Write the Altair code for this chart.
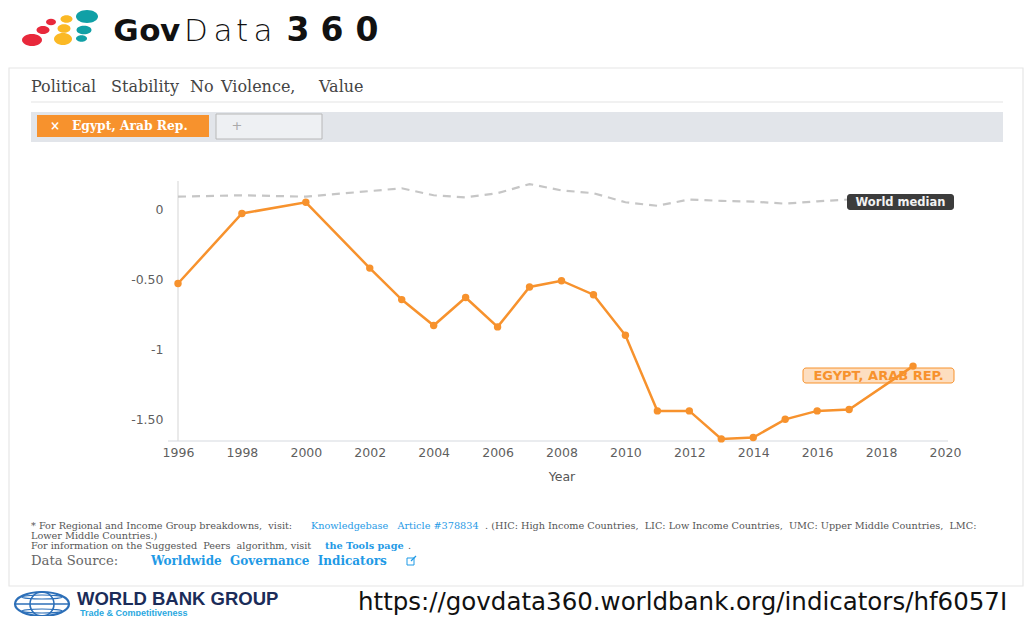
import altair as alt
import pandas as pd

# ---------------- data ----------------
eg_years = [1996, 1998, 2000, 2002, 2003, 2004, 2005, 2006, 2007, 2008,
            2009, 2010, 2011, 2012, 2013, 2014, 2015, 2016, 2017, 2019]
eg_values = [-0.53, -0.03, 0.05, -0.42, -0.645, -0.83, -0.63, -0.84, -0.555, -0.51,
             -0.61, -0.90, -1.44, -1.44, -1.64, -1.63, -1.50, -1.44, -1.43, -1.12]
wm_years = [1996, 1998, 2000, 2002, 2003, 2004, 2005, 2006, 2007, 2008,
            2009, 2010, 2011, 2012, 2013, 2014, 2015, 2016, 2017]
wm_values = [0.09, 0.10, 0.09, 0.13, 0.15, 0.10, 0.085, 0.115, 0.18, 0.135,
             0.115, 0.05, 0.025, 0.07, 0.06, 0.055, 0.04, 0.057, 0.07]
x_ticks = list(range(1996, 2021, 2))
y_ticks = [0, -0.5, -1, -1.5]
y_tick_labels = ["0", "-0.50", "-1", "-1.50"]

egypt = pd.DataFrame({"year": eg_years, "value": eg_values})
median = pd.DataFrame({"year": wm_years, "value": wm_values})

# ---------------- layout helpers ----------------
ORANGE = "#f7922d"
BLUE = "#1f9ae6"
NB = "\u00a0"
OX, OY = 178, 181          # page position of the plot origin
W, H = 767, 260
ONE = alt.Data(values=[{"k": 1}])


def px(X):
    return X - OX


def py(Y):
    return Y - OY


def text(s, X, Y, size, color, font="DejaVu Sans", weight="normal",
         align="left", baseline="middle"):
    return alt.Chart(ONE).mark_text(
        text=s, fontSize=size, color=color, font=font, fontWeight=weight,
        align=align, baseline=baseline
    ).encode(x=alt.value(px(X)), y=alt.value(py(Y)))


def box(X1, Y1, X2, Y2, fill, stroke=None, sw=1, radius=0, opacity=1):
    kw = dict(fill=fill, cornerRadius=radius, fillOpacity=opacity)
    if stroke:
        kw.update(stroke=stroke, strokeWidth=sw)
    return alt.Chart(ONE).mark_rect(**kw).encode(
        x=alt.value(px(X1)), x2=alt.value(px(X2)),
        y=alt.value(py(Y1)), y2=alt.value(py(Y2)))


def rule(X1, Y1, X2, Y2, color, sw=1):
    return alt.Chart(ONE).mark_rule(color=color, strokeWidth=sw).encode(
        x=alt.value(px(X1)), x2=alt.value(px(X2)),
        y=alt.value(py(Y1)), y2=alt.value(py(Y2)))


def ellipse(X, Y, w, h, color, filled=True, sw=1.6):
    r = h / w
    path = f"M -1 0 A 1 {r:.3f} 0 1 0 1 0 A 1 {r:.3f} 0 1 0 -1 0 Z"
    if filled:
        m = alt.Chart(ONE).mark_point(shape=path, size=w * w, filled=True,
                                      color=color, opacity=1, strokeWidth=0)
    else:
        m = alt.Chart(ONE).mark_point(shape=path, size=w * w, filled=False,
                                      stroke=color, strokeWidth=sw, opacity=1)
    return m.encode(x=alt.value(px(X)), y=alt.value(py(Y)))


layers = []

# ---------------- card (border only) ----------------
layers.append(box(9, 68, 1023, 586, "white", stroke="#e6e6e6", sw=1.2, opacity=0))

# ---------------- header logo ----------------
RED, YEL, TEAL = "#e8283b", "#fbb925", "#10a0a6"
for (X, Y, w, h, c) in [(32, 40, 20, 12, RED), (43, 30, 13, 8, RED), (51, 22, 10, 6.5, RED),
                        (63, 39, 18, 12, YEL), (64, 28.5, 13, 8.5, YEL), (66.5, 19, 12, 7.5, YEL),
                        (87, 16.5, 22, 13, TEAL), (84, 30, 15, 8.5, TEAL), (81.5, 38.5, 11, 6.5, TEAL)]:
    layers.append(ellipse(X, Y, w, h, c))

for ch, X, wt, fs in [("G", 126, 700, 31), ("o", 150, 700, 31), ("v", 170, 700, 31),
                      ("D", 196, 200, 31), ("a", 223, 200, 31), ("t", 242, 200, 31),
                      ("a", 263, 200, 31),
                      ("3", 298, 700, 33), ("6", 332, 700, 33), ("0", 367, 700, 33)]:
    layers.append(text(ch, X, 41, fs, "#111", font="DejaVu Sans", weight=wt,
                       align="center", baseline="alphabetic"))

# ---------------- card content ----------------
for word, X in [("Political", 31), ("Stability", 111), ("No", 190),
                ("Violence,", 221), ("Value", 319)]:
    layers.append(text(word, X, 87, 16, "#444", font="DejaVu Serif"))
layers.append(rule(31, 102, 1003, 102, "#e4e4e4", 1.2))
layers.append(box(31, 112, 1003, 142, "#e2e5ea"))
layers.append(box(37, 115, 209, 137, ORANGE))
layers.append(text("×", 55, 126, 12, "white", font="DejaVu Serif", weight="bold", align="center"))
layers.append(text("Egypt," + NB + "Arab Rep.", 72, 126, 12.3, "white", font="DejaVu Serif", weight="bold"))
layers.append(box(216, 114, 322, 139, "#eef0f3", stroke="#b8b8b8", sw=1))
layers.append(text("+", 237, 126, 13, "#aaa", align="center"))

# ---------------- chart ----------------
label_expr = " : ".join(
    f"datum.value == {v} ? '{s}'" for v, s in zip(y_ticks, y_tick_labels)) + " : ''"

xs = alt.Scale(domain=[1996, 2020], nice=False, zero=False)
ys = alt.Scale(domain=[-1.655, 0.202], nice=False, zero=False)
xenc = alt.X("year:Q", scale=xs, axis=alt.Axis(
    values=x_ticks, format="d", ticks=False, domain=False, grid=False,
    labelFont="DejaVu Sans", labelFontSize=12.5, labelColor="#5f5f5f",
    labelPadding=5, labelFlush=False, labelOverlap=False, zindex=1,
    title="Year", titleFont="DejaVu Sans", titleFontSize=12.5,
    titleFontWeight="normal", titleColor="#555", titlePadding=12))
yenc = alt.Y("value:Q", scale=ys, axis=alt.Axis(
    values=y_ticks, labelExpr=label_expr, ticks=False, domain=False, grid=False,
    labelFont="DejaVu Sans", labelFontSize=12.5, labelColor="#5f5f5f",
    labelPadding=15, zindex=1, title=None))

layers.append(rule(168, 441, 948, 441, "#d6d9e0", 1.2))
layers.append(rule(178, 181, 178, 441, "#dcdcdc", 1.2))

layers.append(alt.Chart(median).mark_line(color="#c6c6c6", strokeWidth=2.2,
                                          strokeDash=[8, 6]).encode(x=xenc, y=yenc))
layers.append(alt.Chart(egypt).mark_line(color=ORANGE, strokeWidth=2.5).encode(x=xenc, y=yenc))
layers.append(alt.Chart(egypt).mark_point(filled=True, size=55, color=ORANGE,
                                          opacity=1).encode(x=xenc, y=yenc))

layers.append(box(847, 194, 954, 210, "#2b2b2b", radius=3, opacity=0.92))
layers.append(text("World median", 900.5, 202.5, 11.5, "#f2f2f2", weight="bold", align="center"))
layers.append(box(803, 368, 954, 383, ORANGE, stroke=ORANGE, sw=1, radius=3, opacity=0.3))
layers.append(text("EGYPT, ARAB REP.", 878.5, 376, 13, ORANGE, weight="bold", align="center"))

# ---------------- footnotes ----------------
GR = "#555"
FS = 9.7
SERIF = "DejaVu Serif"
layers.append(text("* For Regional and Income Group breakdowns," + NB + " visit:", 31, 526, FS, GR, font=SERIF))
layers.append(text("Knowledgebase" + NB + NB + " Article #378834", 311, 526, FS, BLUE, font=SERIF))
layers.append(text(". (HIC: High Income Countries," + NB + " LIC: Low Income Countries," + NB +
                   " UMC: Upper Middle Countries," + NB + " LMC:", 485, 526, FS, GR, font=SERIF))
layers.append(text("Lower Middle Countries.)", 31, 535.5, FS, GR, font=SERIF))
layers.append(text("For information on the Suggested" + NB + " Peers" + NB + " algorithm, visit",
                   31, 545.5, FS, GR, font=SERIF))
layers.append(text("the Tools page", 325, 545.5, FS, BLUE, font=SERIF, weight="bold"))
layers.append(text(".", 408, 545.5, FS, GR, font=SERIF))
layers.append(text("Data Source:", 31, 561, 13.2, "#666", font=SERIF))
layers.append(text("Worldwide" + NB + " Governance" + NB + " Indicators", 151, 561, 12, BLUE,
                   font=SERIF, weight="bold"))
layers.append(box(407, 558, 414, 565, "white", stroke=BLUE, sw=1))
layers.append(rule(411, 561, 416, 556, BLUE, 1.2))

# ---------------- footer ----------------
GLOBE = "#2c6fb8"
layers.append(ellipse(42, 604, 54, 24, GLOBE, filled=False, sw=2.2))
layers.append(ellipse(42, 604, 24, 24, GLOBE, filled=False, sw=1.6))
layers.append(rule(16, 604, 68, 604, GLOBE, 1.6))
layers.append(ellipse(42, 597, 40, 4, GLOBE, filled=False, sw=1.2))
layers.append(ellipse(42, 611, 40, 4, GLOBE, filled=False, sw=1.2))
layers.append(text("WORLD BANK GROUP", 77, 598.5, 18.5, "#1b2c59", font="Liberation Sans", weight="bold"))
layers.append(text("Trade & Competitiveness", 80, 612.5, 9, "#2aa8e0", font="Liberation Sans", weight="bold"))
layers.append(text("https://govdata360.worldbank.org/indicators/hf6057I", 358, 610, 24.5, "#111",
                   font="DejaVu Sans", baseline="alphabetic"))

chart = alt.layer(*layers).properties(
    width=W, height=H,
    padding={"left": 170, "top": 173, "right": 79, "bottom": 175},
    autosize=alt.AutoSizeParams(type="none"),
    background="white",
).configure_view(stroke=None)

chart.save("out.html", embed_options={"renderer": "svg", "actions": False})
